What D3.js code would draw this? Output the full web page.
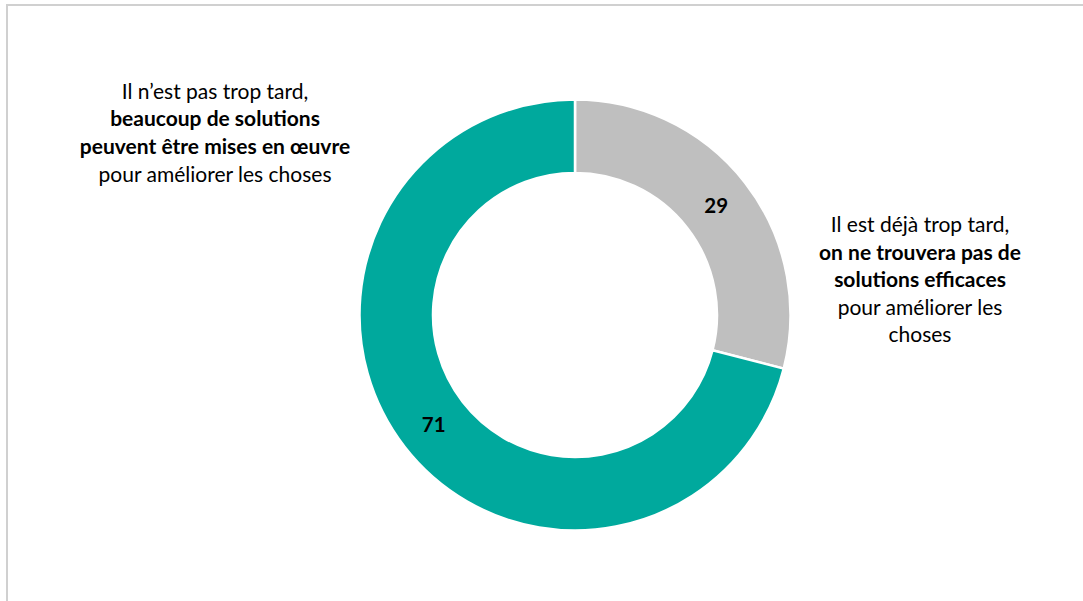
<!DOCTYPE html>
<html><head><meta charset="utf-8">
<script src="https://cdn.jsdelivr.net/npm/d3@7"></script>
<style>html,body{margin:0;padding:0;background:#fff;}svg{display:block;}</style>
</head><body>
<svg id="c" width="1083" height="601"></svg>
<script>
const categories = ["Il est déjà trop tard", "Il n’est pas trop tard"];
const values = [29, 71];
const colors = ["#BFBFBF", "#00A99D"];
const labelRight = [
  {t:"Il est déjà trop tard,", b:false},
  {t:"on ne trouvera pas de", b:true},
  {t:"solutions efficaces", b:true},
  {t:"pour améliorer les", b:false},
  {t:"choses", b:false}
];
const labelLeft = [
  {t:"Il n’est pas trop tard,", b:false},
  {t:"beaucoup de solutions", b:true},
  {t:"peuvent être mises en œuvre", b:true},
  {t:"pour améliorer les choses", b:false}
];

const svg = d3.select("#c");
const font = "Lato, 'Open Sans', sans-serif";
// frame
svg.append("path").attr("d","M7,1100 V5 H1100").attr("fill","none").attr("stroke","#D0D0D0").attr("stroke-width",2);

const cx = 575, cy = 315, rOut = 215.5, rIn = 142;
const pie = d3.pie().sort(null).value(d=>d);
const arc = d3.arc().innerRadius(rIn).outerRadius(rOut);
const g = svg.append("g").attr("transform",`translate(${cx},${cy})`);
const arcs = pie(values);
g.selectAll("path.s").data(arcs).join("path").attr("class","s")
  .attr("d",arc).attr("fill",(d,i)=>colors[i]).attr("stroke","#fff").attr("stroke-width",2.5);
g.selectAll("text.v").data(arcs).join("text").attr("class","v")
  .attr("transform",d=>`translate(${arc.centroid(d)})`)
  .attr("text-anchor","middle").attr("dy","0.36em")
  .style("font-family",font).style("font-weight","bold").style("font-size","20.5px").attr("fill","#000")
  .text(d=>d.data);

function block(lines, x, y0, lh){
  svg.append("g").selectAll("text").data(lines).join("text")
    .attr("x",x).attr("y",(d,i)=>y0+i*lh).attr("text-anchor","middle")
    .style("font-family",font).style("font-size","21px")
    .style("font-weight",d=>d.b?"bold":"normal").attr("fill","#000")
    .text(d=>d.t);
}
block(labelLeft, 215, 98.5, 27.7);
block(labelRight, 920, 232, 27.5);
</script>
</body></html>
